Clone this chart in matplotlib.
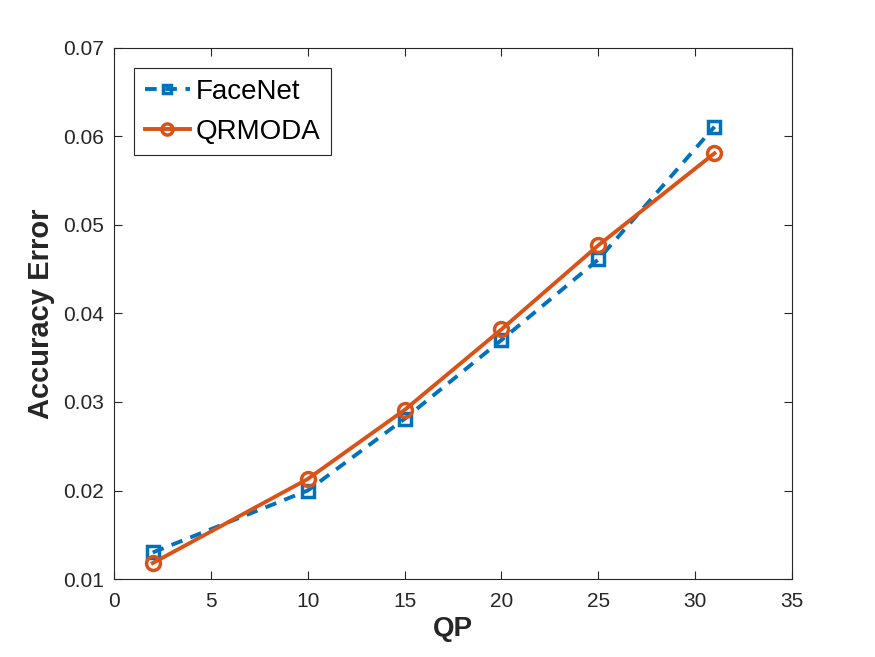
import matplotlib
matplotlib.use("Agg")
import matplotlib.pyplot as plt

qp = [2, 10, 15, 20, 25, 31]
facenet = [0.0130, 0.0200, 0.0281, 0.0370, 0.0461, 0.0611]
qrmoda = [0.0118, 0.0213, 0.0291, 0.0382, 0.0477, 0.0581]

x_ticks = [0, 5, 10, 15, 20, 25, 30, 35]
y_ticks = [0.01, 0.02, 0.03, 0.04, 0.05, 0.06, 0.07]

_BLUE = "#0072BD"
_ORANGE = "#D95319"
_AX = "#262626"

plt.rcParams["font.family"] = ["Liberation Sans", "DejaVu Sans"]

fig = plt.figure(figsize=(8.75, 6.57), dpi=100)
ax = fig.add_axes([0.1303, 0.1187, 0.7748, 0.8083])

ax.plot(qp, facenet, color=_BLUE, linestyle="--", linewidth=2.8, dashes=(3, 2.2),
        marker="s", markersize=8, markerfacecolor="none", markeredgewidth=2.5, label="FaceNet")
ax.plot(qp, qrmoda, color=_ORANGE, linestyle="-", linewidth=2.8,
        marker="o", markersize=10, markerfacecolor="none", markeredgewidth=2.5, label="QRMODA")

ax.set_xlim(0, 35)
ax.set_ylim(0.01, 0.07)
ax.set_xticks(x_ticks)
ax.set_yticks(y_ticks)
ax.set_xticklabels([str(v) for v in x_ticks])
ax.set_yticklabels([f"{v:.2f}" for v in y_ticks])
ax.tick_params(direction="in", length=6, width=0.8, labelsize=15, colors=_AX,
               top=True, right=True)
ax.tick_params(axis="x", pad=9)
ax.tick_params(axis="y", pad=7)
for spine in ax.spines.values():
    spine.set_edgecolor(_AX)
    spine.set_linewidth(0.8)

ax.set_xlabel("QP", fontsize=20, fontweight="bold", color=_AX, labelpad=4)
ax.set_ylabel("Accuracy Error", fontsize=21, fontweight="bold", color=_AX, labelpad=6)

leg = ax.legend(loc="upper left", bbox_to_anchor=(0.0295, 0.962), borderaxespad=0,
                fontsize=20, fancybox=False, framealpha=1, edgecolor=_AX,
                handlelength=1.65, borderpad=0.38, labelspacing=0.5, handletextpad=0.2,
                markerscale=0.8)
leg.get_frame().set_linewidth(0.8)

plt.savefig("out.png", dpi=100, facecolor="white")
plt.close(fig)
